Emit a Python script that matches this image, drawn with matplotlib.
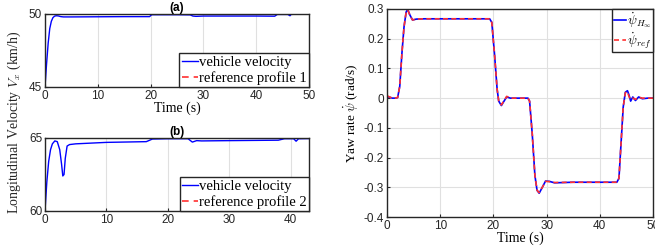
import matplotlib.pyplot as plt

# (a) velocity tracking, reference profile 1
t_a = [0, 0.3, 0.6, 0.9, 1.2, 1.5, 1.8, 2.1, 2.5, 3.0, 3.5, 5, 10, 15, 19.8, 20.2, 22, 25, 27.5,
       28, 28.6, 30, 35, 40, 43.5, 44, 46, 46.4, 46.6, 47, 50]
v_a = [45, 46.6, 48.0, 49.0, 49.5, 49.75, 49.85, 49.88, 49.87, 49.82, 49.8, 49.8, 49.81, 49.82, 49.82,
       49.95, 49.95, 49.95, 49.94, 49.86, 49.84, 49.86, 49.86, 49.86, 49.85, 49.97, 49.97, 49.88, 49.97,
       49.98, 49.98]
ref_a = 50

# (b) velocity tracking, reference profile 2
t_b = [0, 0.3, 0.6, 0.9, 1.2, 1.6, 2.0, 2.4, 2.7, 2.9, 3.1, 3.3, 3.6, 4.0, 5, 10, 16.5, 17.5, 20,
       23.3, 24, 24.7, 25.5, 30, 38, 39, 40.5, 40.9, 41.3, 43]
v_b = [60, 62.0, 63.4, 64.2, 64.6, 64.8, 64.75, 64.2, 63.2, 62.4, 62.5, 63.6, 64.45, 64.55, 64.6,
       64.7, 64.75, 64.93, 64.95, 64.95, 64.72, 64.82, 64.8, 64.82, 64.85, 64.95, 64.95, 64.78, 64.95, 64.96]
ref_b = 65

# yaw rate tracking
t_r = [0, 0.5, 1.0, 1.5, 2.0, 2.4, 2.8, 3.2, 3.6, 3.9, 4.3, 4.8, 5.5, 7, 19.3, 19.7, 20.2, 20.7, 21.0,
       21.5, 22.0, 22.5, 23.2, 26.5, 26.8, 27.3, 27.8, 28.2, 28.6, 29.2, 29.8, 30.5, 31.5, 35, 43.2,
       43.6, 44.0, 44.4, 44.8, 45.2, 45.5, 45.8, 46.2, 46.7, 47.3, 48, 49, 50]
psi_h = [0.005, 0.003, 0.0, 0.0, 0.002, 0.04, 0.15, 0.24, 0.29, 0.298, 0.28, 0.263, 0.266, 0.267, 0.267,
         0.255, 0.15, 0.03, -0.01, -0.025, -0.01, 0.004, 0.0, 0.0, -0.01, -0.12, -0.26, -0.31, -0.32,
         -0.3, -0.279, -0.28, -0.285, -0.283, -0.283, -0.27, -0.15, -0.03, 0.02, 0.025, 0.01, -0.01,
         0.004, -0.008, 0.004, -0.002, 0.0, 0.0]
psi_ref = [0.008, 0.004, 0.0, 0.0, 0.002, 0.04, 0.15, 0.24, 0.29, 0.297, 0.279, 0.263, 0.266, 0.267,
           0.267, 0.255, 0.15, 0.03, -0.01, -0.023, -0.008, 0.006, 0.0, 0.0, -0.01, -0.12, -0.26, -0.31,
           -0.318, -0.3, -0.28, -0.281, -0.284, -0.283, -0.283, -0.27, -0.15, -0.03, 0.018, 0.022,
           0.005, -0.004, 0.0, -0.004, 0.003, 0.0, 0.0, 0.0]

plt.rcParams['font.family'] = 'Liberation Sans'
plt.rcParams['mathtext.fontset'] = 'cm'
serif = 'Liberation Serif'
blue = '#0000ff'
red = '#ff3030'
grid_c = '#e0e0e0'

fig = plt.figure(figsize=(6.55, 2.49), dpi=100)
W, H = 655.0, 249.0

def box(x0, y0, x1, y1):
    return [x0 / W, 1 - y1 / H, (x1 - x0) / W, (y1 - y0) / H]

ax1 = fig.add_axes(box(45, 14, 309, 87))
ax2 = fig.add_axes(box(45, 138, 309, 211))
ax3 = fig.add_axes(box(387, 9, 653, 217))

for ax in (ax1, ax2, ax3):
    ax.grid(True, color=grid_c, linewidth=0.8)
    ax.set_axisbelow(True)
    ax.tick_params(labelsize=8.5, colors='#262626', length=2, direction='in', pad=2)
    for s in ax.spines.values():
        s.set_linewidth(1.0)
        s.set_color('#262626')

leg_kw = dict(prop={'family': serif, 'size': 10.5}, fancybox=False, edgecolor='#262626',
              framealpha=1, handlelength=1.1, handletextpad=0.1, borderpad=0.15,
              labelspacing=0.15, borderaxespad=0)

ax1.plot(t_a, v_a, color=blue, lw=1.0, label='vehicle velocity')
ax1.axhline(ref_a, color=red, lw=1.2, ls=(0, (4, 3)), label='reference profile 1')
ax1.set_xlim(0, 50)
ax1.set_ylim(45, 50)
ax1.set_yticks([45, 50])
ax1.set_xticks([0, 10, 20, 30, 40, 50])
ax1.set_title('(a)', fontsize=8.5, fontweight='bold', pad=1)
ax1.set_xlabel('Time (s)', family=serif, fontsize=10, labelpad=0)
ax1.legend(loc='lower right', **leg_kw).get_frame().set_linewidth(1.0)

ax2.plot(t_b, v_b, color=blue, lw=1.0, label='vehicle velocity')
ax2.axhline(ref_b, color=red, lw=1.2, ls=(0, (4, 3)), label='reference profile 2')
ax2.set_xlim(0, 43)
ax2.set_ylim(60, 65)
ax2.set_yticks([60, 65])
ax2.set_xticks([0, 10, 20, 30, 40])
ax2.set_title('(b)', fontsize=8.5, fontweight='bold', pad=1)
ax2.legend(loc='lower right', **leg_kw).get_frame().set_linewidth(1.0)

fig.text(14 / W, 1 - 122 / H, r'Longitudinal Velocity $V_x$ (km/h)', family=serif, fontsize=10,
         rotation=90, ha='center', va='center', color='#262626')

ax3.plot(t_r, psi_h, color=blue, lw=1.2, label=r'$\dot{\psi}_{H_\infty}$')
ax3.plot(t_r, psi_ref, color=red, lw=1.2, ls=(0, (3, 2)), label=r'$\dot{\psi}_{ref}$')
ax3.set_xlim(0, 50)
ax3.set_ylim(-0.4, 0.3)
ax3.set_yticks([-0.4, -0.3, -0.2, -0.1, 0, 0.1, 0.2, 0.3])
ax3.set_yticklabels(['-0.4', '-0.3', '-0.2', '-0.1', '0', '0.1', '0.2', '0.3'])
ax3.set_xticks([0, 10, 20, 30, 40, 50])
ax3.set_xlabel('Time (s)', family=serif, fontsize=10, labelpad=0)
ax3.set_ylabel(r'Yaw rate $\dot{\psi}$ (rad/s)', family=serif, fontsize=9.5, labelpad=2)
leg3 = dict(leg_kw)
leg3['prop'] = {'family': serif, 'size': 9.5}
leg3['labelspacing'] = 0.0
leg3['borderpad'] = 0.1
leg3['handlelength'] = 0.9
ax3.legend(loc='upper right', **leg3).get_frame().set_linewidth(1.0)

fig.savefig('out.png', dpi=100)
